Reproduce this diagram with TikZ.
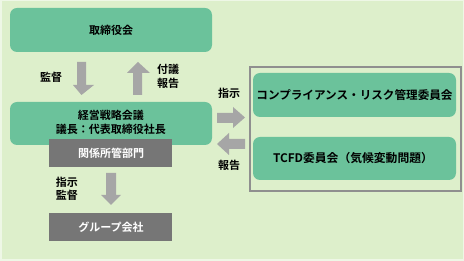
\documentclass[tikz,border=0pt]{standalone}
\usepackage{fontspec}
\setmainfont{Noto Sans CJK JP}[BoldFont={* Bold}]
\definecolor{bgc}{HTML}{DDEFCB}
\definecolor{bgedge}{HTML}{EEF7E6}
\definecolor{boxg}{HTML}{6BC29B}
\definecolor{arrg}{HTML}{A6A6A6}
\definecolor{boxd}{HTML}{767676}
\definecolor{frameg}{HTML}{8F8F8F}
\begin{document}
\begin{tikzpicture}[x=1pt,y=-1pt,
  gbox/.style={fill=boxg, rounded corners=7pt},
  dbox/.style={fill=boxd},
  blk/.style={fill=arrg},
  lbl/.style={font=\bfseries\fontsize{11}{13.5}\selectfont, text=black, align=center},
  wlbl/.style={font=\bfseries\fontsize{11}{13}\selectfont, text=white, align=center}]
\useasboundingbox (0,0) rectangle (464,261);
\fill[bgc] (0,0) rectangle (464,261);
\draw[bgedge, line width=1.5pt] (0.75,0.75) rectangle (463.25,260.25);
% boxes
\fill[gbox] (10,8) rectangle (212,52);
\node[lbl] (board) at (111,30) {取締役会};
\fill[gbox] (10,102) rectangle (212,145);
\fill[dbox] (49,139) rectangle (172,167);
\node[lbl, font=\bfseries\fontsize{11}{14}\selectfont] (mgmt) at (111,122) {経営戦略会議\\議長：代表取締役社長};
\node[wlbl] (dept) at (111,153) {関係所管部門};
\fill[dbox] (49,213) rectangle (172,241);
\node[wlbl] (group) at (111,227) {グループ会社};
% right frame
\draw[frameg, line width=1.3pt] (250,67) rectangle (461,191);
\fill[gbox] (253,73) rectangle (456,117);
\node[lbl, font=\bfseries\fontsize{11.6}{14}\selectfont] (comp) at (354.5,95) {コンプライアンス・リスク管理委員会};
\fill[gbox] (253,137) rectangle (456,180);
\node[lbl, font=\bfseries\fontsize{11.8}{14}\selectfont] (tcfd) at (353,158.5) {TCFD委員会（気候変動問題）};
% arrows
\fill[blk] (77,62) -- (86,62) -- (86,85) -- (94,85) -- (81.5,95) -- (73,85) -- (77,85) -- cycle;
\fill[blk] (133,95) -- (142,95) -- (142,73) -- (150,73) -- (138,62) -- (127,73) -- (133,73) -- cycle;
\fill[blk] (106,173) -- (116,173) -- (116,195) -- (121,195) -- (111,205) -- (101,195) -- (106,195) -- cycle;
\fill[blk] (217,113) -- (233,113) -- (233,107) -- (245,117.5) -- (233,128) -- (233,123) -- (217,123) -- cycle;
\fill[blk] (245,139) -- (229,139) -- (229,133) -- (217,144) -- (229,155) -- (229,149) -- (245,149) -- cycle;
% labels
\node[lbl] (l1) at (51,77) {監督};
\node[lbl] (l2) at (168,76.5) {付議\\報告};
\node[lbl] (l3) at (229,93) {指示};
\node[lbl] (l4) at (229,165) {報告};
\node[lbl] (l5) at (67,189) {指示\\監督};
\end{tikzpicture}
\end{document}
